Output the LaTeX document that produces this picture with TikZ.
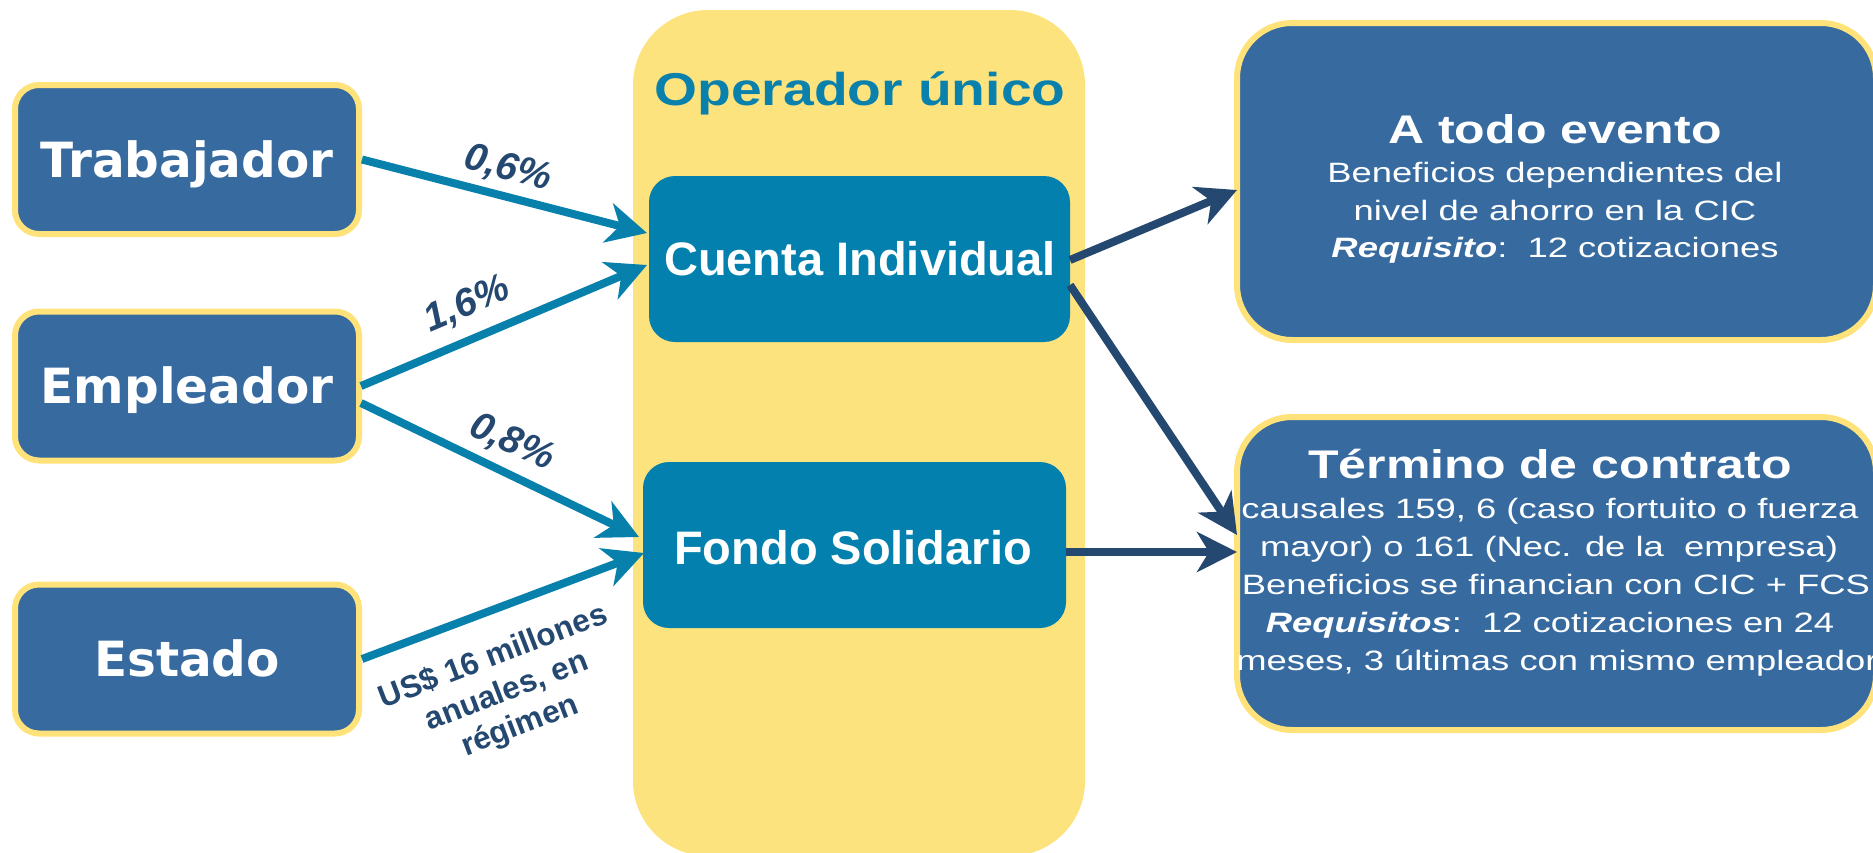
\documentclass[tikz,border=0pt]{standalone}
\usepackage{fontspec}
\setmainfont{Liberation Sans}
\newfontfamily\opfont[FakeStretch=1.2]{Liberation Sans}
\newfontfamily\rtfont[FakeStretch=1.25]{Liberation Sans}
\newfontfamily\rbfont[FakeStretch=1.3]{Liberation Sans}
\newfontfamily\dvfont{DejaVu Sans}
\usetikzlibrary{arrows.meta,calc}
\definecolor{boxblue}{HTML}{376BA0}
\definecolor{bord}{HTML}{FFE27A}
\definecolor{opyel}{HTML}{FDE37D}
\definecolor{cbox}{HTML}{0380AD}
\definecolor{carrow}{HTML}{0780AB}
\definecolor{cnavy}{HTML}{244870}
\definecolor{optext}{HTML}{0A80AC}
\tikzset{
  leftbox/.style={draw=bord, line width=6pt, fill=boxblue, rounded corners=24pt,
    minimum width=344pt, minimum height=149pt, inner sep=0pt},
  lefttext/.style={text=white, font=\dvfont\bfseries\fontsize{48.5}{58}\selectfont, inner sep=0pt, anchor=base},
  midbox/.style={fill=cbox, rounded corners=26pt, inner sep=0pt},
  midtext/.style={text=white, font=\bfseries\fontsize{47}{56}\selectfont, inner sep=0pt, anchor=base},
  rightbox/.style={draw=bord, line width=6pt, fill=boxblue, rounded corners=55pt, inner sep=0pt},
  rtitle/.style={text=white, font=\rtfont\bfseries\fontsize{40}{48}\selectfont, inner sep=0pt, anchor=base},
  rbody/.style={text=white, font=\rbfont\fontsize{28}{34}\selectfont, inner sep=0pt, anchor=base},
  inarrow/.style={draw=carrow, line width=8pt, -{Stealth[length=40pt,width=40pt,inset=12pt]}},
  outarrow/.style={draw=cnavy, line width=8pt, -{Stealth[length=40pt,width=40pt,inset=12pt]}},
  pct/.style={text=cnavy, font=\bfseries\itshape\fontsize{39}{45}\selectfont, inner sep=0pt},
  usd/.style={text=cnavy, font=\bfseries\fontsize{31.5}{37}\selectfont, inner sep=0pt, align=center},
}
\begin{document}
\begin{tikzpicture}[x=1pt,y=-1pt]
\useasboundingbox (0,0) rectangle (1873,852);
\clip (0,0) rectangle (1873,852);

% operador unico background
\node[fill=opyel, rounded corners=75pt, minimum width=452pt, minimum height=846pt, inner sep=0pt] (op) at (859,433) {};
\node[text=optext, font=\opfont\bfseries\fontsize{46}{54}\selectfont, inner sep=0pt, anchor=base] (opt) at (860,105) {Operador único};

% left boxes
\node[leftbox] (trab) at (187,159.5) {};
\node[lefttext] (trabt) at (187,177) {Trabajador};
\node[leftbox] (emp) at (187,386) {};
\node[lefttext] (empt) at (187,403) {Empleador};
\node[leftbox] (est) at (187,659) {};
\node[lefttext] (estt) at (187,676) {Estado};

% middle boxes
\node[midbox, minimum width=421pt, minimum height=166pt] (cuenta) at (859.5,259) {};
\node[midtext] (cuentat) at (860,275) {Cuenta Individual};
\node[midbox, minimum width=423pt, minimum height=166pt] (fondo) at (854.5,545) {};
\node[midtext] (fondot) at (853,564) {Fondo Solidario};

% right boxes
\node[rightbox, minimum width=639pt, minimum height=317pt] (ate) at (1556.5,181.5) {};
\node[rtitle] (ate1) at (1555,143) {A todo evento};
\node[rbody] (ate2) at (1555,182) {Beneficios dependientes del};
\node[rbody] (ate3) at (1555,220) {nivel de ahorro en la CIC};
\node[rbody] (ate4) at (1555,257) {\textbf{\textit{Requisito}}:\ \ 12 cotizaciones};

\node[rightbox, minimum width=639pt, minimum height=313pt] (ter) at (1556.5,573.5) {};
\node[rtitle] (ter1) at (1550,478) {Término de contrato};
\node[rbody] (ter2) at (1550,518) {causales 159, 6 (caso fortuito o fuerza};
\node[rbody] (ter3) at (1549,556) {mayor) o 161 (Nec. de la\ \ empresa)};
\node[rbody] (ter4) at (1556,594) {Beneficios se financian con CIC + FCS};
\node[rbody] (ter5) at (1550,632) {\textbf{\textit{Requisitos}}:\ \ 12 cotizaciones en 24};
\node[rbody] (ter6) at (1557,670) {meses, 3 últimas con mismo empleador};

% arrow end coordinates
\coordinate (c1) at (647,233);
\coordinate (c2) at (647,265);
\coordinate (f1) at (639,537);
\coordinate (f2) at (644,553);
\coordinate (e1) at (361,386);
\coordinate (e2) at (361,403);
\coordinate (co1) at (1070,260);
\coordinate (co2) at (1070,285);
\coordinate (fo1) at (1066,552);
\coordinate (a1) at (1237,190);
\coordinate (t1) at (1237,535);
\coordinate (t2) at (1237,552);

% incoming arrows
\draw[inarrow] (trab.east) -- (c1);
\draw[inarrow] (e1) -- (c2);
\draw[inarrow] (e2) -- (f1);
\draw[inarrow] (est.east) -- (f2);

% outgoing arrows
\draw[outarrow] (co1) -- (a1);
\draw[outarrow] (co2) -- (t1);
\draw[outarrow] (fo1) -- (t2);

% labels
\node[pct, rotate=-15] (l1) at (508,169) {0,6\%};
\node[pct, rotate=23] (l2) at (467,305) {1,6\%};
\node[pct, rotate=-24] (l3) at (512,443) {0,8\%};
\node[usd, rotate=21] (l4) at (507,692) {US\$ 16 millones\\anuales, en\\régimen};
\end{tikzpicture}
\end{document}
